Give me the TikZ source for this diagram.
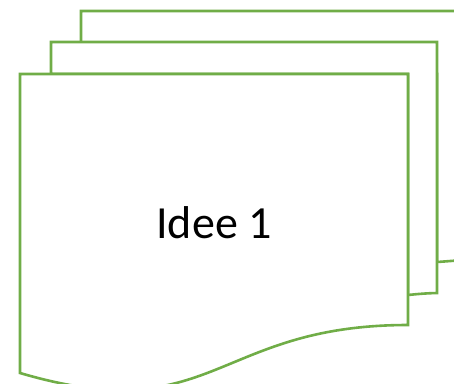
\documentclass[tikz,border=0pt]{standalone}
\usepackage{fontspec}
\setmainfont{Carlito}
\definecolor{docgreen}{HTML}{70AD47}
\begin{document}
\begin{tikzpicture}[x=1pt,y=-1pt,
  docline/.style={draw=docgreen,line width=2.6pt,fill=white,line join=miter}]
\useasboundingbox (0,0) rectangle (454,383);
\clip (0,0) rectangle (454,383);
% back sheet
\path[docline] (81,74) -- (81,11) -- (480,11) -- (480,259) .. controls (455,260.5) and (445,261.5) .. (437,262) -- (437,74) -- cycle;
% middle sheet
\path[docline] (51,74) -- (51,42) -- (437,42) -- (437,293) .. controls (425,293.3) and (418,294) .. (408,295) -- (408,74) -- cycle;
% front sheet
\path[docline] (20,74) -- (408,74) -- (408,325) .. controls (214,325) and (214,430) .. (20,373) -- cycle;
\node[anchor=base,inner sep=0pt,font=\fontsize{46}{55}\selectfont] (label) at (214,238) {Idee 1};
\end{tikzpicture}
\end{document}
